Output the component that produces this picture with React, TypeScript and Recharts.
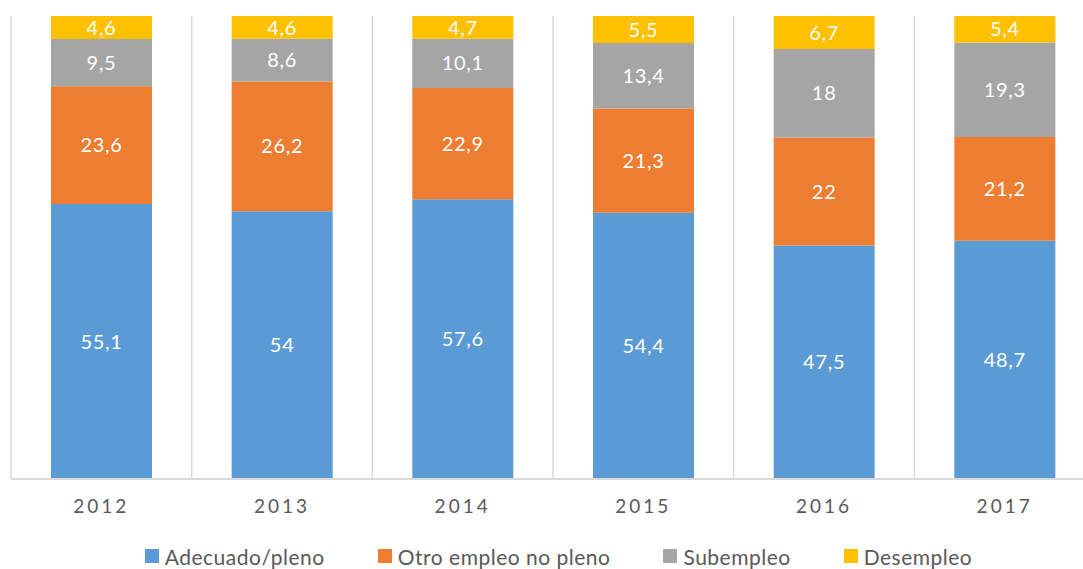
import React from 'react';
import { BarChart, Bar, XAxis, YAxis, CartesianGrid, LabelList, Legend } from 'recharts';

const years = ['2012', '2013', '2014', '2015', '2016', '2017'];
const adecuado = [55.1, 54, 57.6, 54.4, 47.5, 48.7];
const otroEmpleo = [23.6, 26.2, 22.9, 21.3, 22, 21.2];
const subempleo = [9.5, 8.6, 10.1, 13.4, 18, 19.3];
const desempleo = [4.6, 4.6, 4.7, 5.5, 6.7, 5.4];

const seriesNames = ['Adecuado/pleno', 'Otro empleo no pleno', 'Subempleo', 'Desempleo'];
const seriesKeys = ['adecuado', 'otro', 'sub', 'des'];
const seriesColors = ['#5B9BD5', '#ED7D31', '#A5A5A5', '#FFC000'];

const data = years.map((y, i) => ({
  year: y,
  adecuado: adecuado[i],
  otro: otroEmpleo[i],
  sub: subempleo[i],
  des: desempleo[i],
}));

const FONT = 'Lato, "Open Sans", sans-serif';

const fmt = (v: any) => String(v).replace('.', ',');

const LegendContent = () => (
  <div style={{ height: 35, boxSizing: 'border-box', paddingBottom: 5 }}>
    <div
      style={{
        display: 'flex',
        justifyContent: 'center',
        alignItems: 'center',
        height: 30,
        paddingLeft: 11,
        fontFamily: FONT,
        fontSize: 21,
        letterSpacing: 0.5,
        color: '#595959',
        whiteSpace: 'nowrap',
      }}
    >
      {seriesNames.map((n, i) => (
        <div key={n} style={{ display: 'flex', alignItems: 'center', marginRight: i < 3 ? 53 : 0 }}>
          <span style={{ display: 'inline-block', width: 14, height: 14, background: seriesColors[i], marginRight: 6 }} />
          <span>{n}</span>
        </div>
      ))}
    </div>
  </div>
);

export default function App() {
  return (
    <div style={{ position: 'fixed', left: 0, top: 0, width: 1083, height: 569, overflow: 'hidden', background: '#fff' }}>
      <BarChart
        width={1100}
        height={576}
        data={data}
        stackOffset="expand"
        margin={{ top: 16, right: 5, left: 11, bottom: 0 }}
        barSize={101}
      >
        <CartesianGrid
          horizontal={false}
          stroke="#D9D9D9"
          strokeWidth={1.5}
          verticalCoordinatesGenerator={({ offset }: any) =>
            Array.from({ length: years.length + 1 }, (_, i) => offset.left + (i * offset.width) / years.length)
          }
        />
        <XAxis
          dataKey="year"
          axisLine={{ stroke: '#D9D9D9', strokeWidth: 2 }}
          tickLine={false}
          tickMargin={15}
          height={62}
          interval={0}
          tick={{ fill: '#595959', fontSize: 19, fontFamily: FONT, letterSpacing: 3 }}
        />
        <YAxis hide domain={[0, 1]} />
        {seriesKeys.map((k, i) => (
          <Bar key={k} dataKey={k} name={seriesNames[i]} stackId="a" fill={seriesColors[i]} isAnimationActive={false}>
            <LabelList
              dataKey={k}
              position="center"
              formatter={fmt}
              fill="#FFFFFF"
              style={{ fontSize: 20, fontFamily: FONT, letterSpacing: 0.7 }}
            />
          </Bar>
        ))}
        <Legend verticalAlign="bottom" content={<LegendContent />} />
      </BarChart>
    </div>
  );
}
